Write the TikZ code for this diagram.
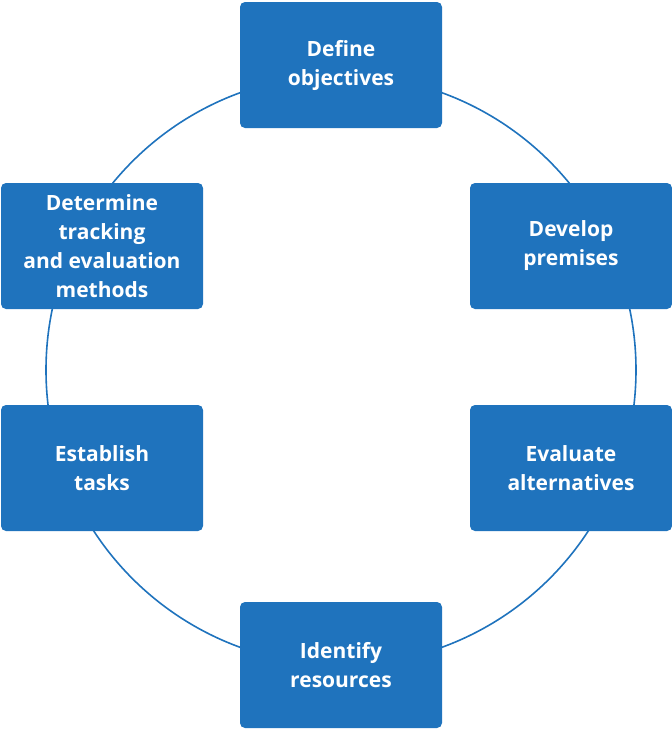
\documentclass[tikz,border=0pt]{standalone}
\usepackage{fontspec}
\setmainfont{Open Sans}
\definecolor{boxblue}{HTML}{1F73BD}
\begin{document}
\begin{tikzpicture}[x=1pt,y=-1pt,
  box/.style={fill=boxblue,rounded corners=5pt,minimum width=202pt,minimum height=126pt,
    text=white,align=center,font=\fontsize{21}{29}\selectfont\bfseries,inner sep=0pt}]
\useasboundingbox (0,0) rectangle (672,729);
\draw[boxblue,line width=1.6pt] (341,370) circle (295);
\node[box] (a) at (341,65) {Define\\objectives};
\node[box] (b) at (571,246) {Develop\\premises};
\node[box] (c) at (571,468) {Evaluate\\alternatives};
\node[box] (d) at (341,665) {Identify\\resources};
\node[box] (e) at (102,468) {Establish\\tasks};
\node[box] (f) at (102,246) {Determine\\tracking\\and evaluation\\methods};
\end{tikzpicture}
\end{document}
